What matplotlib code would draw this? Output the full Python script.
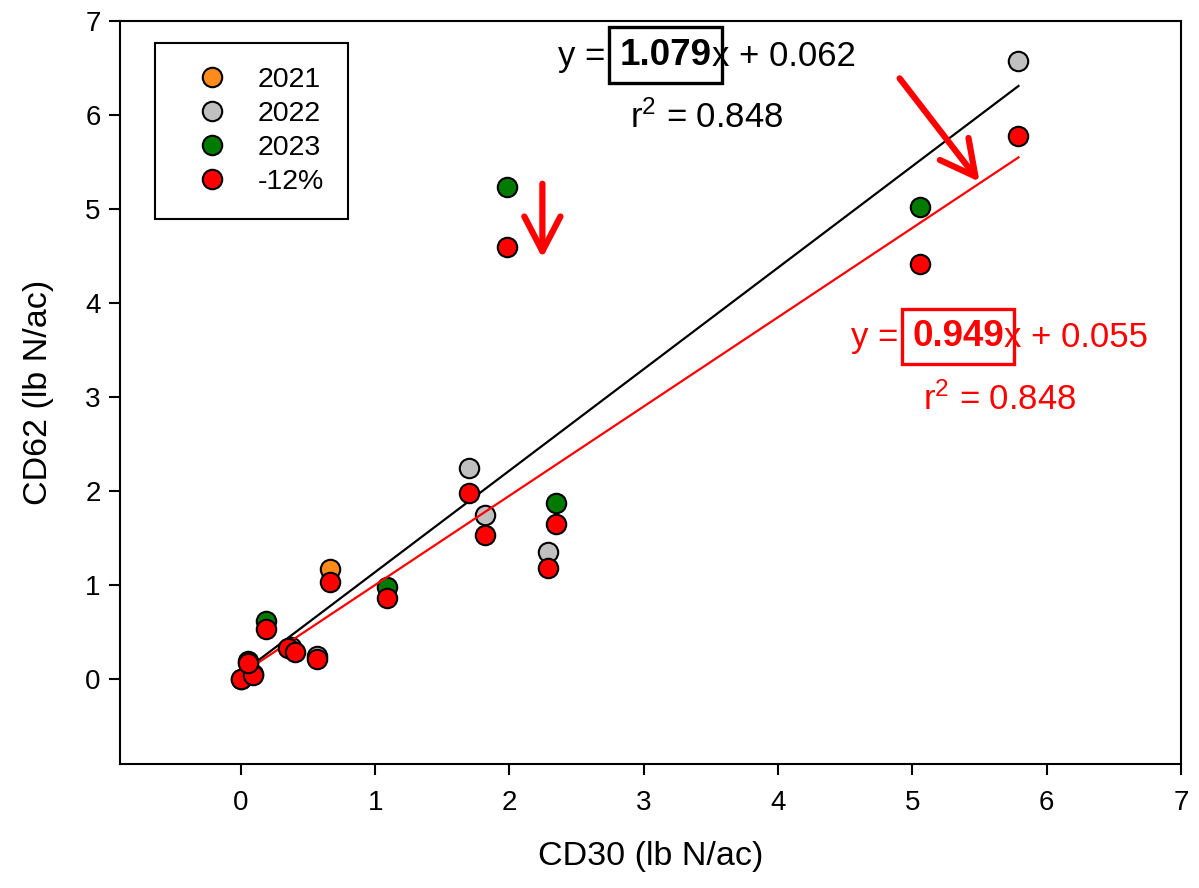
import matplotlib
matplotlib.use("Agg")
import matplotlib.pyplot as plt
from matplotlib.lines import Line2D

plt.rcParams['font.family'] = ['Liberation Sans', 'DejaVu Sans']
plt.rcParams['mathtext.default'] = 'regular'

# ---- data ----
x_2021 = [0.66, 0.05, 0.00]
y_2021 = [1.17, 0.19, 0.00]

x_2022 = [1.70, 1.82, 2.29, 5.79, 0.37, 0.57]
y_2022 = [2.25, 1.75, 1.35, 6.57, 0.34, 0.25]

x_2023 = [0.19, 1.09, 1.98, 2.35, 5.06, 0.09]
y_2023 = [0.62, 0.98, 5.23, 1.87, 5.02, 0.06]

x_red = [0.00, 0.09, 0.05, 0.19, 0.35, 0.40, 0.57, 0.66, 1.09, 1.70, 1.82, 2.29, 2.35, 1.98, 5.06, 5.79]
y_red = [0.00, 0.05, 0.17, 0.54, 0.33, 0.29, 0.22, 1.03, 0.86, 1.98, 1.53, 1.18, 1.65, 4.60, 4.42, 5.78]

legend_labels = ['2021', '2022', '2023', '-12%']

fit_black = (1.079, 0.062)
fit_red = (0.949, 0.055)
r2_black = 0.848
r2_red = 0.848
fit_xrange = [0.0, 5.79]

xticks = [0, 1, 2, 3, 4, 5, 6, 7]
yticks = [0, 1, 2, 3, 4, 5, 6, 7]

c_2021 = '#ff8c1a'
c_2022 = '#c0c0c0'
c_2023 = '#007a00'
c_red = '#ff0000'

fig = plt.figure(figsize=(11.99, 8.88), dpi=100)
ax = fig.add_axes([120/1199, 1-764/888, (1181-120)/1199, (764-21)/888])

ms = 14
mk = dict(marker='o', linestyle='none', markersize=ms, markeredgecolor='black', markeredgewidth=1.5)
ax.plot(x_2021, y_2021, color=c_2021, zorder=3, **mk)
ax.plot(x_2022, y_2022, color=c_2022, zorder=3, **mk)
ax.plot(x_2023, y_2023, color=c_2023, zorder=3, **mk)

xs = fit_xrange
ax.plot(xs, [fit_black[0]*v + fit_black[1] for v in xs], color='black', lw=1.6, zorder=4)
ax.plot(xs, [fit_red[0]*v + fit_red[1] for v in xs], color=c_red, lw=1.6, zorder=4)

ax.plot(x_red, y_red, color=c_red, zorder=5, **mk)

ax.set_xlim(-0.9, 7)
ax.set_ylim(-0.9, 7)
ax.set_xticks(xticks)
ax.set_yticks(yticks)
ax.tick_params(axis='both', direction='out', length=8, width=1.5, labelsize=20)
ax.tick_params(axis='x', pad=11)
ax.tick_params(axis='y', pad=6)
for s in ax.spines.values():
    s.set_linewidth(1.5)

ax.set_xlabel('CD30 (lb N/ac)', fontsize=24.5, labelpad=18)
ax.set_ylabel('CD62 (lb N/ac)', fontsize=24.5, labelpad=22)

# legend
handles = [Line2D([], [], color=c, **mk) for c in [c_2021, c_2022, c_2023, c_red]]
leg = ax.legend(handles, legend_labels, loc='upper left', bbox_to_anchor=(35/1061, (764-43)/743),
                fontsize=20.5, frameon=True, fancybox=False, edgecolor='black', framealpha=1,
                borderpad=0.85, handlelength=2.3, handletextpad=0.45, labelspacing=0.28,
                borderaxespad=0)
leg.get_frame().set_linewidth(1.5)

# equations
def equation(xb, yb, slope, intercept, r2, color, r2x, r2y):
    fs = 25
    bold = ax.text(xb, yb, f'{slope:.3f}', fontsize=26.5, fontweight='bold', color=color,
                   ha='left', va='bottom', zorder=6,
                   bbox=dict(boxstyle='square,pad=0.28', fc='none', ec=color, lw=2.4))
    ax.annotate('y = ', xy=(0, 0), xycoords=bold, xytext=(-3.5, 0), textcoords='offset points',
                ha='right', va='bottom', fontsize=fs, color=color)
    ax.annotate(f'x + {intercept:.3f}', xy=(1, 0), xycoords=bold, xytext=(0, 0),
                textcoords='offset points', ha='left', va='bottom', fontsize=fs, color=color)
    ax.text(r2x, r2y, f'r$^{{2}}$ = {r2:.3f}', fontsize=fs, color=color, ha='center', va='center')

equation(2.82, 6.45, fit_black[0], fit_black[1], r2_black, 'black', 3.47, 5.97)
equation(5.00, 3.46, fit_red[0], fit_red[1], r2_red, c_red, 5.65, 2.97)

# arrows
arrow = dict(arrowstyle='->,head_length=1.25,head_width=0.65', color=c_red, lw=4.5,
             shrinkA=0, shrinkB=0, mutation_scale=20)
ax.annotate('', xy=(2.245, 4.48), xytext=(2.245, 5.27), arrowprops=arrow, zorder=6)
ax.annotate('', xy=(5.50, 5.29), xytext=(4.905, 6.39), arrowprops=arrow, zorder=6)

fig.savefig('out.png', dpi=100)
